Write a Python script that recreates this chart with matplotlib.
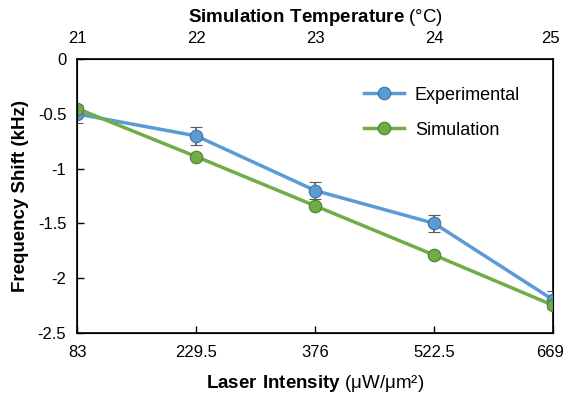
import matplotlib.pyplot as plt
from matplotlib.transforms import ScaledTranslation

plt.rcParams['font.family'] = ['Liberation Sans', 'DejaVu Sans']
plt.rcParams['mathtext.fontset'] = 'custom'
plt.rcParams['mathtext.rm'] = 'Liberation Sans'
plt.rcParams['mathtext.bf'] = 'Liberation Sans:bold'

# Data
intensity = [83, 229.5, 376, 522.5, 669]
temperature = [21, 22, 23, 24, 25]
experimental = [-0.50, -0.70, -1.20, -1.50, -2.20]
exp_err = [0.08, 0.08, 0.08, 0.08, 0.08]
simulation = [-0.45, -0.89, -1.34, -1.79, -2.25]

fig = plt.figure(figsize=(5.65, 3.96), dpi=100)
ax = fig.add_axes([0.137, 0.16, 0.842, 0.69])

h1 = ax.errorbar(intensity, experimental, yerr=exp_err, color='#5B9BD5', lw=2.5,
                 marker='o', ms=9, mfc='#5B9BD5', mec='#41719C', mew=0.8,
                 ecolor='#595959', elinewidth=1.2, capsize=4, capthick=1.2,
                 label='Experimental', zorder=3)
h2, = ax.plot(intensity, simulation, color='#70AD47', lw=2.5, marker='o', ms=9,
              mfc='#70AD47', mec='#507E32', mew=0.8, label='Simulation', zorder=4)

ax.set_xlim(83, 669)
ax.set_ylim(-2.5, 0)
ax.set_xticks(intensity)
ax.set_xticklabels(['83', '229.5', '376', '522.5', '669'])
ax.set_yticks([-2.5, -2, -1.5, -1, -0.5, 0])
ax.set_yticklabels(['-2.5', '-2', '-1.5', '-1', '-0.5', '0'])
ax.tick_params(direction='in', labelsize=12, length=5, width=1, pad=8)
ax.tick_params(axis='x', pad=9)
for s in ax.spines.values():
    s.set_linewidth(1.2)

ax.set_xlabel(r'$\mathbf{Laser\ Intensity}$ (μW/μm²)', fontsize=13.5, labelpad=9)
ax.set_ylabel('Frequency Shift (kHz)', fontsize=13.5, fontweight='bold', labelpad=6)

ax2 = ax.twiny()
ax2.set_xlim(21, 25)
ax2.set_xticks(temperature)
ax2.tick_params(direction='in', labelsize=12, length=0, pad=10)
ax2.set_xlabel(r'$\mathbf{Simulation\ Temperature}$ (°C)', fontsize=13.5, labelpad=6)

# keep the last tick labels inside the canvas
shift = ScaledTranslation(-2 / 72, 0, fig.dpi_scale_trans)
for lab in (ax.get_xticklabels()[-1], ax2.get_xticklabels()[-1]):
    lab.set_transform(lab.get_transform() + shift)

ax.legend([h1[0], h2], ['Experimental', 'Simulation'], loc='upper right',
          bbox_to_anchor=(0.965, 0.96), frameon=False,
          fontsize=13, handlelength=2.2, handletextpad=0.6, labelspacing=1.0)

plt.savefig('out.png', dpi=100)
